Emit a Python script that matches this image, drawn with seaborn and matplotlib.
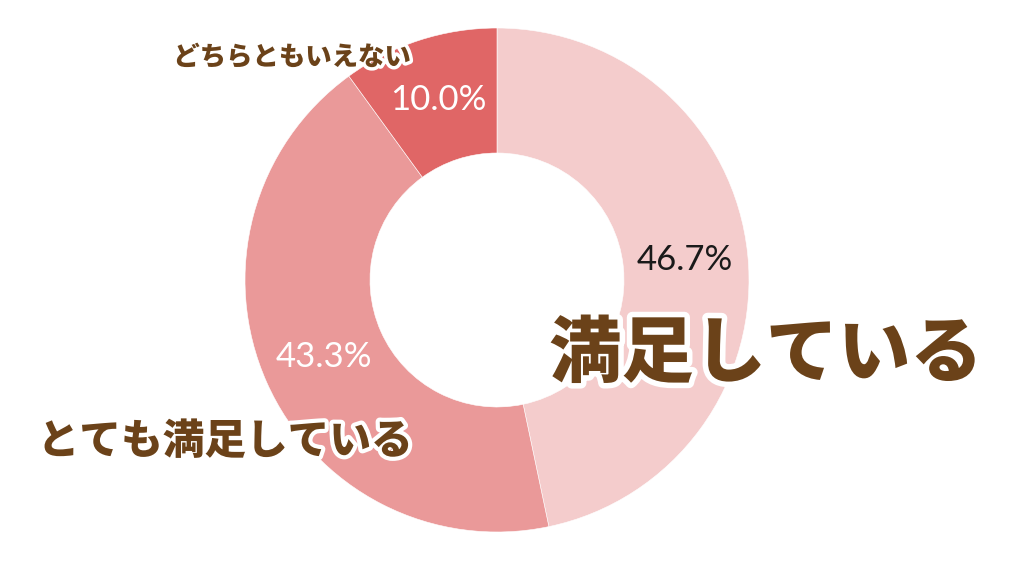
import matplotlib
matplotlib.use("Agg")
import matplotlib.pyplot as plt
import matplotlib.patheffects as pe
import seaborn as sns

# データ
categories = ['満足している', 'とても満足している', 'どちらともいえない']
values = [46.7, 43.3, 10.0]
colors = ['#F4CCCC', '#EA9999', '#E06666']
pct_colors = ['#1a1a1a', 'white', 'white']

sns.set_theme(style='white')
plt.rcParams['font.family'] = ['Noto Sans CJK JP', 'DejaVu Sans']

fig = plt.figure(figsize=(10.24, 5.76), dpi=100)
ax = fig.add_axes([0, 0, 1, 1])

wedges, texts, autotexts = ax.pie(
    values,
    colors=colors,
    startangle=90,
    counterclock=False,
    radius=252,
    center=(0, 0),
    autopct='%1.1f%%',
    pctdistance=0.75,
    wedgeprops=dict(width=125, edgecolor='white', linewidth=0.4),
    textprops=dict(fontsize=25, fontweight='normal', family=['Lato', 'DejaVu Sans']),
    frame=False,
)
for t, c in zip(autotexts, pct_colors):
    t.set_color(c)

ax.set_xlim(-497, 527)
ax.set_ylim(-296, 280)
ax.set_aspect('equal')
ax.axis('off')

# カテゴリラベル（白フチ付き）
brown = '#6B4219'
label_pos = [(269, -75), (-272, -162), (-205, 223)]
label_size = [52, 30, 19]
label_stroke = [8, 6, 5]
for name, (x, y), s, w in zip(categories, label_pos, label_size, label_stroke):
    ax.text(x, y, name, fontsize=s, fontweight='heavy', color=brown,
            ha='center', va='center',
            path_effects=[pe.withStroke(linewidth=w, foreground='white')])

fig.savefig('out.png', dpi=100, facecolor='white')
